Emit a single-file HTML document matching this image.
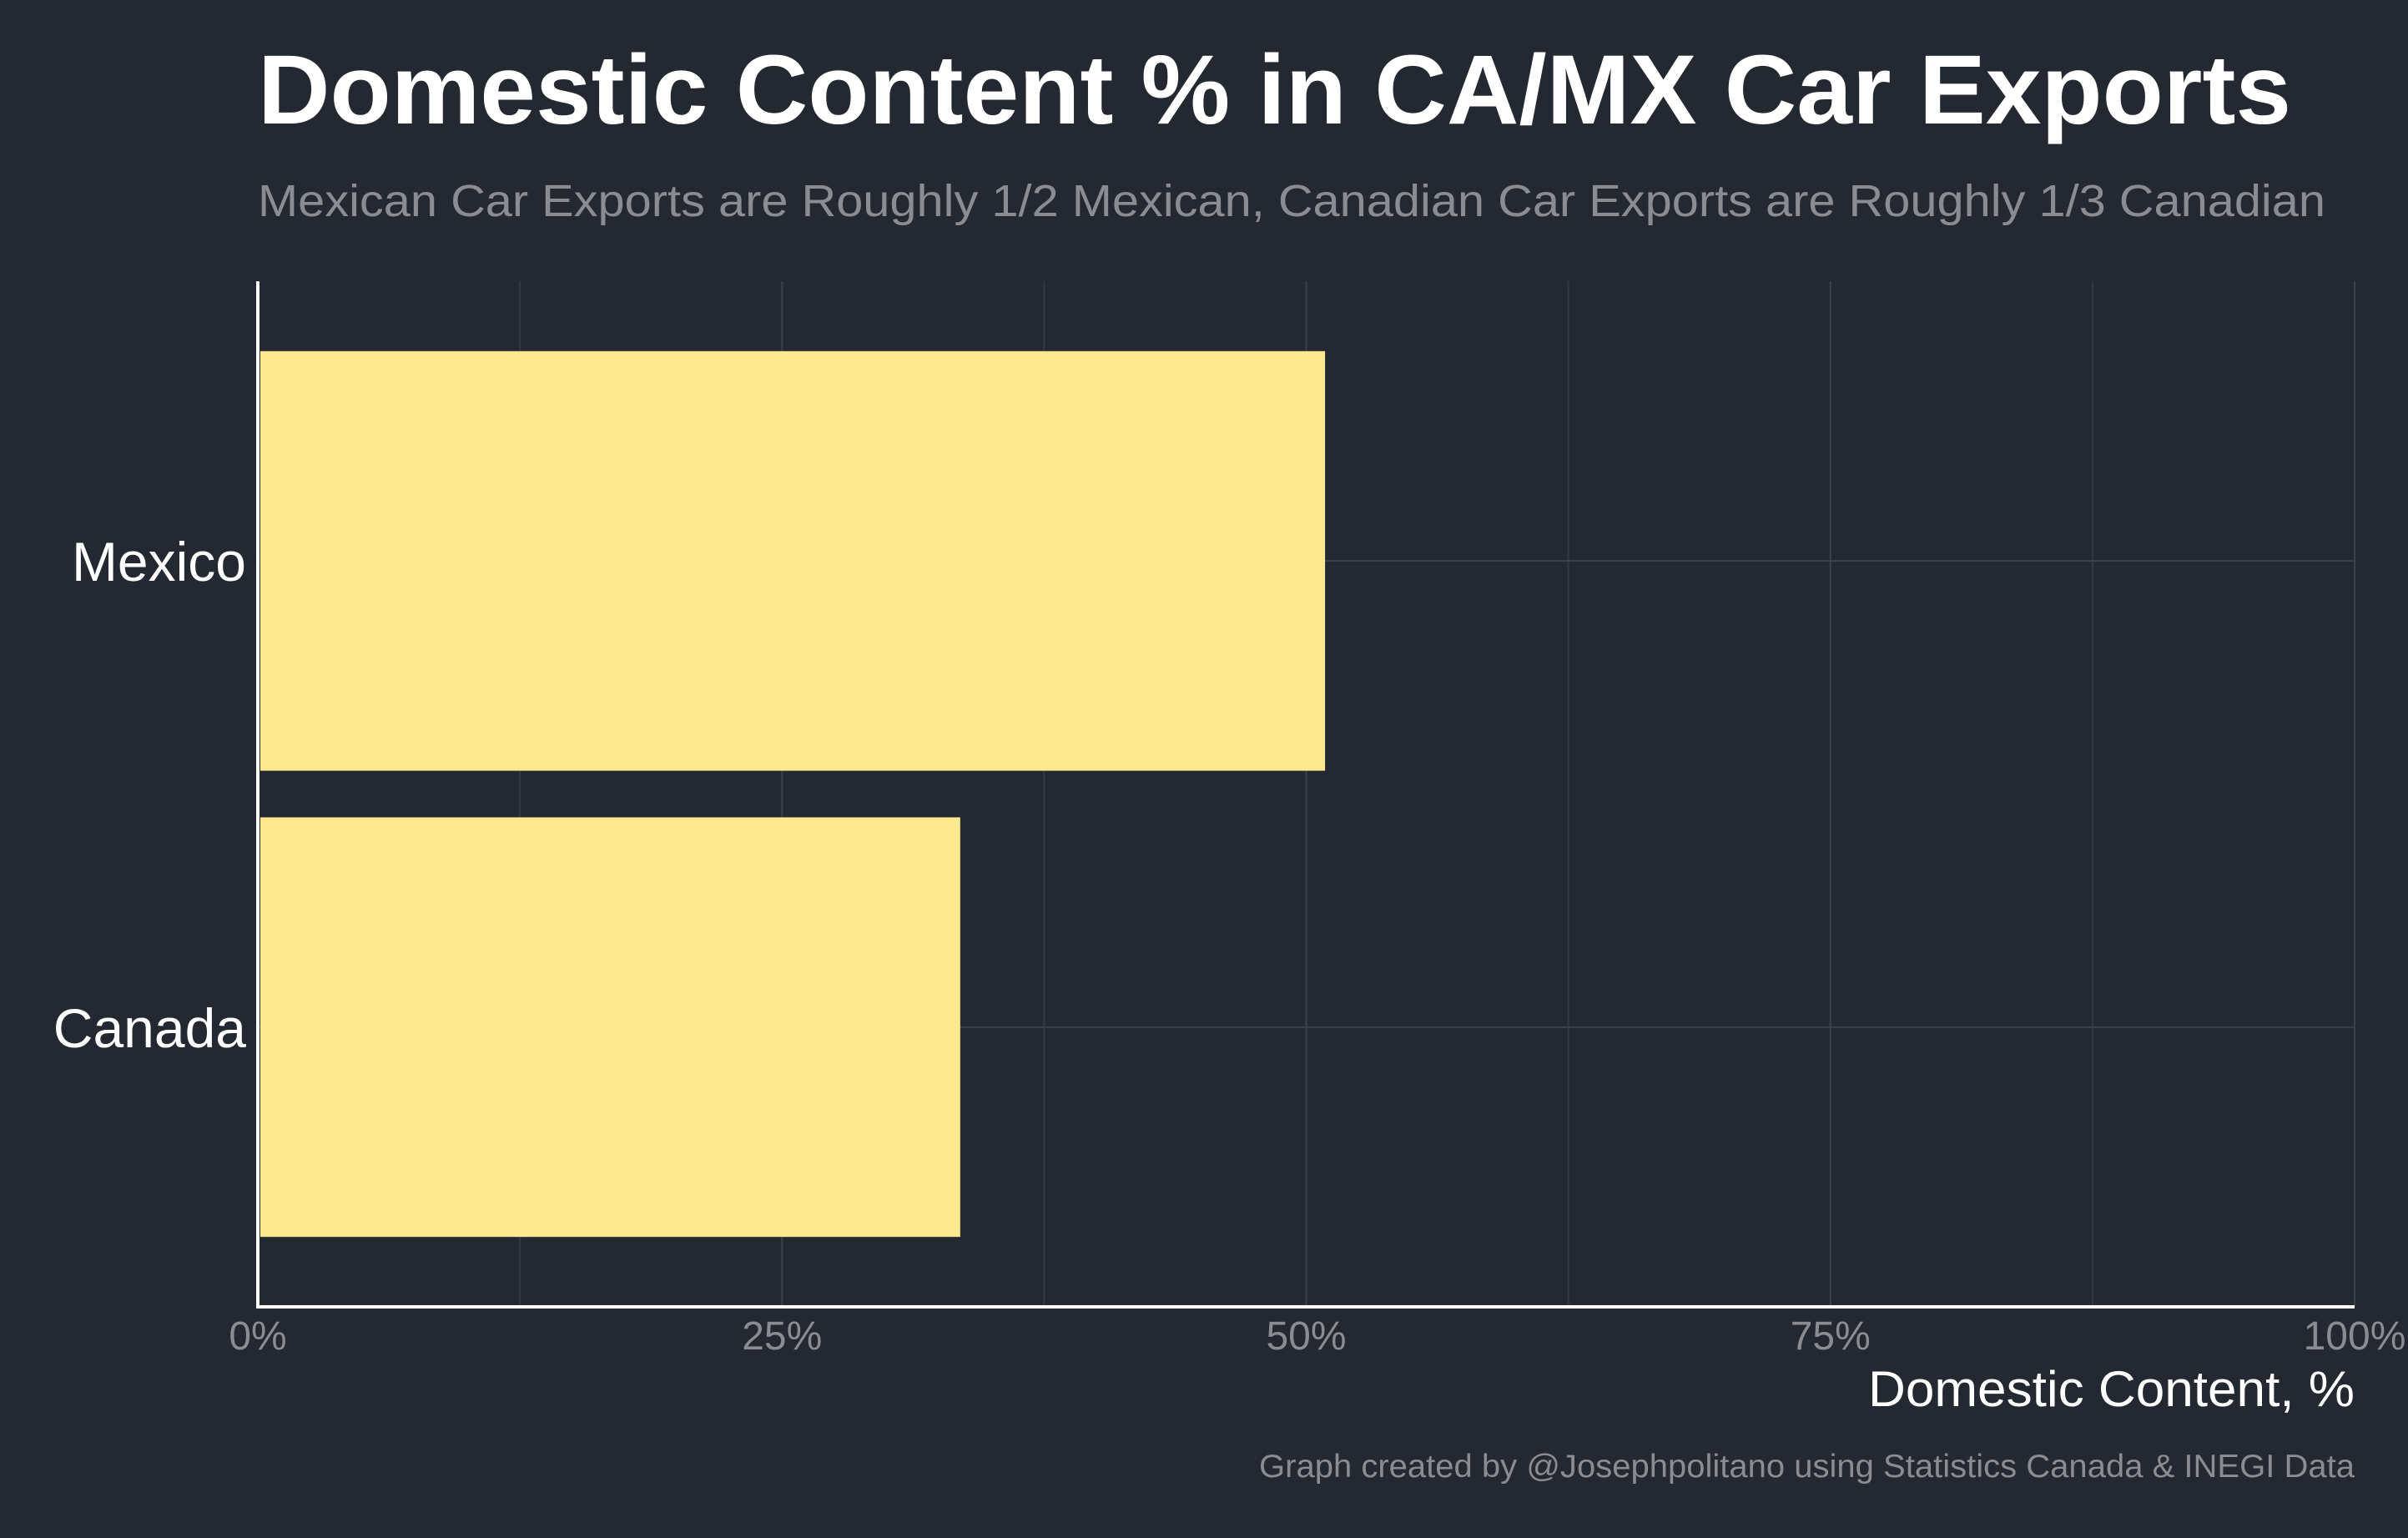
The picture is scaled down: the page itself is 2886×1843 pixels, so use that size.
<!DOCTYPE html>
<html><head><meta charset="utf-8"><style>
html,body{margin:0;padding:0;background:#242831;}
svg{display:block;font-family:"Liberation Sans",Arial,sans-serif;}
</style></head><body>
<svg id="chart" width="2886" height="1843" viewBox="0 0 2886 1843" xmlns="http://www.w3.org/2000/svg">
<rect x="0" y="0" width="2886" height="1843" fill="#242831"/>
<text x="309" y="148" font-size="118" font-weight="bold" fill="#ffffff" textLength="2437" lengthAdjust="spacingAndGlyphs">Domestic Content % in CA/MX Car Exports</text>
<text x="309" y="259" font-size="54" fill="#8b8c92" textLength="2478" lengthAdjust="spacingAndGlyphs">Mexican Car Exports are Roughly 1/2 Mexican, Canadian Car Exports are Roughly 1/3 Canadian</text>
<g id="grid"></g>
<g id="bars"></g>
<g id="axes"></g>
<text x="2822" y="1685" font-size="60" fill="#ffffff" text-anchor="end" textLength="583" lengthAdjust="spacingAndGlyphs">Domestic Content, %</text>
<text x="2822" y="1770" font-size="39" fill="#8b8c92" text-anchor="end" textLength="1313" lengthAdjust="spacingAndGlyphs">Graph created by @Josephpolitano using Statistics Canada &amp; INEGI Data</text>
</svg>
<script>
const categories = ["Mexico", "Canada"];
const values = [50.9, 33.5];
const xTicks = [0, 25, 50, 75, 100];
const xTickLabels = ["0%", "25%", "50%", "75%", "100%"];

const NS = "http://www.w3.org/2000/svg";
const L = 309, R = 2822, T = 337, B = 1566;
const xScale = v => L + (v / 100) * (R - L);
const band = (B - T) / (categories.length - 1 + 1.2);
const yCenter = i => T + band * (0.6 + i);
const barH = band * 0.9;

function mk(tag, attrs, parent) {
  const e = document.createElementNS(NS, tag);
  for (const k in attrs) e.setAttribute(k, attrs[k]);
  parent.appendChild(e);
  return e;
}
const grid = document.getElementById('grid');
const bars = document.getElementById('bars');
const axes = document.getElementById('axes');

for (let i = 0; i < xTicks.length - 1; i++) {
  const m = (xTicks[i] + xTicks[i + 1]) / 2;
  const g = mk('line', {x1: xScale(m), x2: xScale(m), y1: T, y2: B, stroke: '#353942', 'stroke-width': 2}, grid);
  
  
}
xTicks.forEach((t, i) => {
  const g = mk('line', {x1: xScale(t), x2: xScale(t), y1: T, y2: B, stroke: '#3c4049', 'stroke-width': 2}, grid);
  
  
  const lb = mk('text', {x: xScale(t), y: 1617, 'font-size': 48, fill: '#8b8c92', 'text-anchor': 'middle'}, axes);
  lb.textContent = xTickLabels[i];
  
  
});
categories.forEach((c, i) => {
  const gl = mk('line', {x1: L, x2: R, y1: yCenter(i), y2: yCenter(i), stroke: '#3c4049', 'stroke-width': 2}, grid);
  
  
  const b = mk('rect', {x: L + 3, y: yCenter(i) - barH / 2, width: xScale(values[i]) - L - 3, height: barH, fill: '#fee98f'}, bars);
  
  
  const lb = mk('text', {x: 295, y: yCenter(i) + 24, 'font-size': 66, fill: '#ffffff', 'text-anchor': 'end'}, axes);
  lb.textContent = c;
  
  
});
const ya = mk('line', {x1: L, x2: L, y1: T, y2: B + 2, stroke: '#ffffff', 'stroke-width': 4}, axes);


const xa = mk('line', {x1: L - 2, x2: R, y1: B, y2: B, stroke: '#ffffff', 'stroke-width': 4}, axes);


</script>
</body></html>
